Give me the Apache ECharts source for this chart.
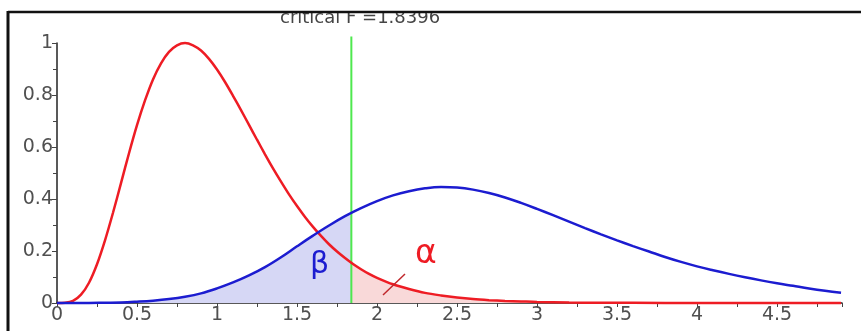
<!DOCTYPE html>
<html>
<head>
<meta charset="utf-8">
<script src="https://cdn.jsdelivr.net/npm/echarts@6/dist/echarts.min.js"></script>
<style>
  html, body { margin: 0; padding: 0; background: #fff; }
  #chart { width: 861px; height: 331px; }
</style>
</head>
<body>
<div id="chart"></div>
<script>
const criticalF = 1.8396;

// Null hypothesis (central F): sample positions and density
const nullGrid = [0, 0.05, 0.1, 0.15, 0.2, 0.25, 0.3, 0.35, 0.4, 0.45, 0.5, 0.55, 0.6, 0.65, 0.7, 0.75, 0.8, 0.85, 0.9, 0.95,
  1.0, 1.05, 1.1, 1.15, 1.2, 1.25, 1.3, 1.35, 1.4, 1.45, 1.5, 1.55, 1.6, 1.65, 1.7, 1.75, 1.8, 1.85, 1.9, 1.95,
  2.0, 2.1, 2.2, 2.3, 2.4, 2.5, 2.6, 2.7, 2.8, 2.9, 3.0, 3.2, 3.4, 3.6, 4.0, 4.9];
const nullDensity = [0, 0.001, 0.008, 0.032, 0.078, 0.149, 0.241, 0.347, 0.461, 0.576, 0.684, 0.779, 0.86, 0.922, 0.966, 0.991, 1.0, 0.991, 0.971, 0.939,
  0.898, 0.85, 0.797, 0.742, 0.685, 0.628, 0.572, 0.518, 0.467, 0.418, 0.373, 0.331, 0.293, 0.258, 0.226, 0.198, 0.173, 0.15, 0.13, 0.112,
  0.097, 0.072, 0.054, 0.039, 0.029, 0.021, 0.015, 0.011, 0.008, 0.006, 0.004, 0.002, 0.001, 0.0005, 0.0001, 0];

// Alternative hypothesis (non-central F): sample positions and density
const altGrid = [0, 0.1, 0.2, 0.3, 0.4, 0.5, 0.6, 0.7, 0.8, 0.9, 1.0, 1.1, 1.2, 1.3, 1.4, 1.5, 1.6, 1.7, 1.8,
  1.9, 2.0, 2.1, 2.2, 2.3, 2.4, 2.5, 2.6, 2.7, 2.8, 2.9, 3.0, 3.1, 3.2, 3.3, 3.4, 3.5, 3.6, 3.7, 3.8, 3.9,
  4.0, 4.1, 4.2, 4.3, 4.4, 4.5, 4.6, 4.7, 4.8, 4.9];
const altDensity = [0, 0, 0, 0.001, 0.002, 0.005, 0.009, 0.015, 0.024, 0.037, 0.056, 0.079, 0.106, 0.138, 0.176, 0.218, 0.259, 0.298, 0.334,
  0.365, 0.392, 0.414, 0.43, 0.441, 0.446, 0.444, 0.436, 0.423, 0.406, 0.385, 0.362, 0.338, 0.313, 0.288, 0.264, 0.241, 0.219, 0.198, 0.177, 0.158,
  0.141, 0.126, 0.112, 0.099, 0.087, 0.076, 0.066, 0.056, 0.047, 0.039];

// Density values where the critical line cuts each curve
const nullAtCritical = 0.155;
const altAtCritical = 0.346;

const xTicks = ['0', '0.5', '1', '1.5', '2', '2.5', '3', '3.5', '4', '4.5'];
const yTicks = ['0', '0.2', '0.4', '0.6', '0.8', '1'];

const nullPts = nullGrid.map((x, i) => [x, nullDensity[i]]);
const altPts = altGrid.map((x, i) => [x, altDensity[i]]);
const betaArea = altPts.filter(p => p[0] < criticalF).concat([[criticalF, altAtCritical]]);
const alphaArea = [[criticalF, nullAtCritical]].concat(nullPts.filter(p => p[0] > criticalF));

const font = 'DejaVu Sans';
const chart = echarts.init(document.getElementById('chart'), null, { renderer: 'canvas' });

chart.setOption({
  backgroundColor: '#ffffff',
  animation: false,
  grid: { left: 57, right: 19, top: 43, bottom: 28, containLabel: false },
  xAxis: {
    type: 'value', min: 0, max: 4.906, interval: 0.5,
    axisLine: { show: true, lineStyle: { color: '#222', width: 1.5 } },
    axisTick: { show: true, length: 4, lineStyle: { color: '#444' } },
    minorTick: { show: true, splitNumber: 2, length: 4, lineStyle: { color: '#444' } },
    splitLine: { show: false },
    axisLabel: {
      showMaxLabel: false, margin: 3, color: '#505050', fontFamily: font, fontSize: 19,
      formatter: v => xTicks[Math.round(v / 0.5)] ?? ''
    }
  },
  yAxis: {
    type: 'value', min: 0, max: 1, interval: 0.2, offset: 4,
    axisLine: { show: true, lineStyle: { color: '#222', width: 1.5 } },
    axisTick: { show: true, length: 5, lineStyle: { color: '#444' } },
    minorTick: { show: true, splitNumber: 2, length: 4, lineStyle: { color: '#444' } },
    splitLine: { show: false },
    axisLabel: {
      margin: 0, color: '#505050', fontFamily: font, fontSize: 19,
      formatter: v => yTicks[Math.round(v / 0.2)] ?? ''
    }
  },
  series: [
    {
      name: 'beta', type: 'line', data: betaArea, smooth: 0.4, symbol: 'none', clip: false,
      lineStyle: { width: 0 }, areaStyle: { color: '#d6d7f5', opacity: 1 }, z: 1
    },
    {
      name: 'alpha', type: 'line', data: alphaArea, smooth: 0.3, symbol: 'none', clip: false,
      lineStyle: { width: 0 }, areaStyle: { color: '#f9d9d9', opacity: 1 }, z: 1
    },
    {
      name: 'critical', type: 'line', data: [[criticalF, 0], [criticalF, 1.025]], symbol: 'none', clip: false,
      lineStyle: { color: '#4ee84e', width: 2 }, z: 3
    },
    {
      name: 'H0', type: 'line', data: nullPts, smooth: 0.3, symbol: 'none', clip: false,
      lineStyle: { color: '#ee1c24', width: 2.5 }, z: 4
    },
    {
      name: 'H1', type: 'line', data: altPts, smooth: 0.4, symbol: 'none', clip: false,
      lineStyle: { color: '#1c1cd0', width: 2.5 }, z: 5
    }
  ],
  graphic: [
    { type: 'text', left: 280, top: 9, z: 10,
      style: { text: 'critical F =1.8396', font: '18px "DejaVu Sans"', fill: '#444' } },
    { type: 'rect', shape: { x: 0, y: 0, width: 861, height: 11 }, style: { fill: '#ffffff' }, z: 20 },
    { type: 'line', shape: { x1: 8, y1: 12, x2: 861, y2: 12 }, style: { stroke: '#111', lineWidth: 2.5 }, z: 21 },
    { type: 'line', shape: { x1: 8, y1: 11, x2: 8, y2: 331 }, style: { stroke: '#111', lineWidth: 3 }, z: 21 },
    { type: 'text', left: 310, top: 250, z: 12,
      style: { text: 'β', font: '30px "DejaVu Sans"', fill: '#1c1cd0' } },
    { type: 'text', left: 415, top: 238, z: 12,
      style: { text: 'α', font: '33px "DejaVu Sans"', fill: '#ee1c24' } },
    { type: 'line', shape: { x1: 383, y1: 295, x2: 405, y2: 274 }, style: { stroke: '#c0282c', lineWidth: 1.5 }, z: 12 }
  ]
});
</script>
</body>
</html>
